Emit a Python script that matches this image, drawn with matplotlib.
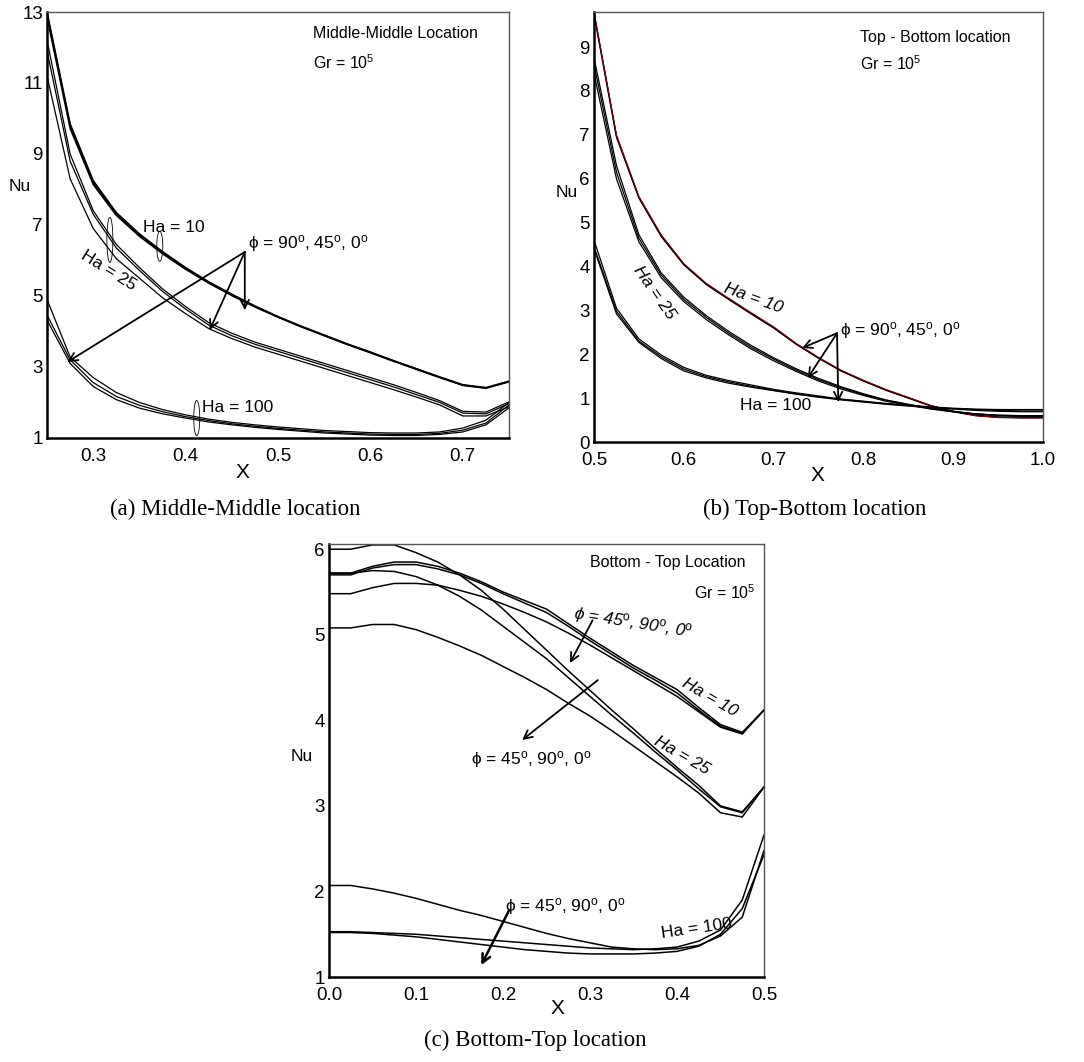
import numpy as np
import matplotlib.pyplot as plt
from matplotlib.patches import Ellipse

plt.rcParams['font.family'] = ['Liberation Sans', 'DejaVu Sans']
plt.rcParams['mathtext.fontset'] = 'custom'
plt.rcParams['mathtext.rm'] = 'Liberation Sans'
plt.rcParams['mathtext.it'] = 'Liberation Sans:italic'

# ---- (a) Middle-Middle location ----
xa = np.arange(0.25, 0.7501, 0.025)
a_ha10 = [[13.0, 9.85, 8.25, 7.35, 6.75, 6.25, 5.8, 5.4, 5.05, 4.72, 4.42, 4.15, 3.9, 3.65, 3.42, 3.18, 2.95, 2.72, 2.5, 2.42, 2.6],
          [12.95, 9.8, 8.2, 7.31, 6.72, 6.22, 5.78, 5.38, 5.03, 4.7, 4.41, 4.14, 3.89, 3.64, 3.41, 3.17, 2.94, 2.71, 2.49, 2.41, 2.59],
          [12.85, 9.72, 8.14, 7.27, 6.68, 6.19, 5.75, 5.36, 5.01, 4.69, 4.4, 4.13, 3.88, 3.63, 3.4, 3.16, 2.93, 2.7, 2.48, 2.4, 2.58]]
a_ha25 = [[12.2, 9.0, 7.4, 6.45, 5.8, 5.2, 4.7, 4.25, 3.95, 3.7, 3.5, 3.3, 3.1, 2.9, 2.7, 2.5, 2.28, 2.05, 1.75, 1.73, 2.02],
          [11.9, 8.8, 7.3, 6.35, 5.72, 5.13, 4.63, 4.18, 3.88, 3.64, 3.44, 3.24, 3.04, 2.84, 2.64, 2.44, 2.22, 2.0, 1.7, 1.68, 1.97],
          [11.2, 8.3, 6.9, 6.05, 5.5, 4.95, 4.5, 4.08, 3.8, 3.56, 3.36, 3.16, 2.96, 2.76, 2.56, 2.36, 2.15, 1.93, 1.62, 1.62, 1.88]]
a_ha100 = [[4.9, 3.28, 2.7, 2.28, 2.0, 1.8, 1.65, 1.53, 1.44, 1.37, 1.31, 1.26, 1.21, 1.18, 1.15, 1.14, 1.14, 1.17, 1.28, 1.5, 2.0],
           [4.46, 3.2, 2.56, 2.17, 1.92, 1.74, 1.6, 1.49, 1.4, 1.33, 1.27, 1.22, 1.17, 1.14, 1.11, 1.1, 1.1, 1.13, 1.22, 1.42, 1.93],
           [4.32, 3.1, 2.45, 2.08, 1.84, 1.68, 1.56, 1.45, 1.37, 1.3, 1.24, 1.19, 1.14, 1.11, 1.08, 1.07, 1.07, 1.1, 1.17, 1.37, 1.85]]

# ---- (b) Top-Bottom location ----
xb = np.arange(0.5, 1.0001, 0.025)
b_ha10 = [[9.8, 7.0, 5.6, 4.72, 4.07, 3.62, 3.28, 2.95, 2.63, 2.25, 1.93, 1.64, 1.41, 1.2, 1.02, 0.83, 0.7, 0.6, 0.56, 0.55, 0.55],
          [9.78, 6.98, 5.58, 4.7, 4.05, 3.6, 3.26, 2.93, 2.61, 2.24, 1.92, 1.63, 1.4, 1.19, 1.01, 0.83, 0.7, 0.61, 0.57, 0.56, 0.56],
          [9.75, 6.95, 5.56, 4.68, 4.04, 3.59, 3.25, 2.92, 2.6, 2.23, 1.91, 1.62, 1.39, 1.18, 1.0, 0.82, 0.69, 0.6, 0.56, 0.55, 0.55]]
b_ha25 = [[8.75, 6.3, 4.72, 3.85, 3.3, 2.88, 2.52, 2.2, 1.92, 1.67, 1.45, 1.26, 1.1, 0.96, 0.86, 0.77, 0.7, 0.64, 0.6, 0.58, 0.58],
          [8.6, 6.15, 4.64, 3.8, 3.25, 2.84, 2.48, 2.16, 1.89, 1.64, 1.42, 1.24, 1.08, 0.95, 0.85, 0.76, 0.69, 0.64, 0.61, 0.6, 0.6],
          [8.4, 6.0, 4.56, 3.74, 3.2, 2.79, 2.44, 2.12, 1.85, 1.61, 1.39, 1.21, 1.06, 0.93, 0.84, 0.75, 0.69, 0.64, 0.61, 0.6, 0.6]]
b_ha100 = [[4.6, 3.05, 2.35, 1.98, 1.7, 1.52, 1.4, 1.3, 1.2, 1.12, 1.05, 0.98, 0.93, 0.88, 0.84, 0.8, 0.77, 0.75, 0.74, 0.74, 0.74],
           [4.45, 2.98, 2.3, 1.94, 1.66, 1.49, 1.37, 1.27, 1.18, 1.1, 1.03, 0.97, 0.92, 0.87, 0.83, 0.79, 0.76, 0.74, 0.72, 0.71, 0.71],
           [4.4, 2.92, 2.27, 1.9, 1.62, 1.46, 1.34, 1.25, 1.17, 1.09, 1.02, 0.96, 0.91, 0.86, 0.82, 0.78, 0.75, 0.72, 0.7, 0.69, 0.69]]

# ---- (c) Bottom-Top location ----
xc = np.arange(0.0, 0.5001, 0.025)
c_ha10 = [[5.72, 5.72, 5.8, 5.85, 5.85, 5.8, 5.72, 5.62, 5.5, 5.4, 5.3, 5.13, 4.96, 4.8, 4.64, 4.5, 4.36, 4.15, 3.95, 3.86, 4.12],
          [5.7, 5.7, 5.78, 5.82, 5.82, 5.77, 5.7, 5.6, 5.48, 5.37, 5.26, 5.1, 4.93, 4.77, 4.61, 4.47, 4.32, 4.12, 3.93, 3.85, 4.12],
          [5.48, 5.48, 5.55, 5.6, 5.6, 5.58, 5.52, 5.45, 5.36, 5.26, 5.15, 5.02, 4.88, 4.73, 4.58, 4.43, 4.28, 4.1, 3.92, 3.84, 4.12]]
c_ha25 = [[6.0, 6.0, 6.05, 6.05, 5.96, 5.85, 5.7, 5.52, 5.3, 5.06, 4.82, 4.58, 4.35, 4.12, 3.9, 3.67, 3.45, 3.24, 3.0, 2.93, 3.22],
          [5.72, 5.72, 5.75, 5.74, 5.68, 5.58, 5.45, 5.29, 5.1, 4.91, 4.72, 4.5, 4.28, 4.06, 3.85, 3.63, 3.42, 3.2, 2.99, 2.92, 3.22],
          [5.08, 5.08, 5.12, 5.12, 5.06, 4.97, 4.87, 4.76, 4.63, 4.5, 4.36, 4.2, 4.05, 3.88, 3.7, 3.52, 3.34, 3.15, 2.92, 2.87, 3.22]]
c_ha100 = [[2.07, 2.07, 2.03, 1.98, 1.92, 1.85, 1.78, 1.72, 1.65, 1.58, 1.51, 1.45, 1.4, 1.35, 1.33, 1.32, 1.33, 1.37, 1.48, 1.7, 2.48],
           [1.53, 1.53, 1.52, 1.51, 1.5, 1.48, 1.46, 1.44, 1.42, 1.4, 1.38, 1.36, 1.34, 1.33, 1.32, 1.33, 1.35, 1.42, 1.55, 1.9, 2.66],
           [1.52, 1.52, 1.51, 1.49, 1.47, 1.44, 1.41, 1.38, 1.35, 1.32, 1.3, 1.28, 1.27, 1.27, 1.27, 1.28, 1.3, 1.36, 1.5, 1.8, 2.43]]

PHI = r'ϕ = 90$^{\rm o}$, 45$^{\rm o}$, 0$^{\rm o}$'
PHI2 = r'ϕ = 45$^{\rm o}$, 90$^{\rm o}$, 0$^{\rm o}$'
GR = r'Gr = 10$^{5}$'

fig = plt.figure(figsize=(10.84, 10.62), dpi=100)


def style_axes(ax, xlim, ylim, xticks, yticks, xfmt):
    ax.set_xlim(*xlim)
    ax.set_ylim(*ylim)
    ax.set_xticks(xticks)
    ax.set_xticklabels([xfmt % t for t in xticks])
    ax.set_yticks(yticks)
    ax.tick_params(length=0, labelsize=13.5, pad=3)
    ax.tick_params(axis='x', pad=7)
    for s in ['left', 'bottom']:
        ax.spines[s].set_linewidth(1.8)
        ax.spines[s].set_color('black')
    for s in ['top', 'right']:
        ax.spines[s].set_linewidth(1.0)
        ax.spines[s].set_color('#555555')


def arrow(ax, tail, head, lw=1.3):
    ax.annotate('', xy=head, xytext=tail,
                arrowprops=dict(arrowstyle='->,head_length=0.6,head_width=0.3', color='black', lw=lw,
                                shrinkA=0, shrinkB=0))


# (a)
ax = fig.add_axes([0.0434, 0.5876, 0.4262, 0.4011])
for ys in a_ha10:
    ax.plot(xa, ys, color='black', lw=1.1)
for ys in a_ha25 + a_ha100:
    ax.plot(xa, ys, color='black', lw=0.9)
style_axes(ax, (0.25, 0.75), (1, 13), [0.3, 0.4, 0.5, 0.6, 0.7], [1, 3, 5, 7, 9, 11, 13], '%.1f')
ax.text(0.538, 12.4, 'Middle-Middle Location', fontsize=11.5, va='center')
ax.text(0.538, 11.56, GR, fontsize=11.5, va='center')
ax.text(0.354, 6.92, 'Ha = 10', fontsize=12.5, va='center')
ax.text(0.316, 5.73, 'Ha = 25', fontsize=12.5, va='center', ha='center', rotation=-32)
ax.text(0.418, 1.85, 'Ha = 100', fontsize=12.5, va='center')
ax.text(0.467, 6.49, PHI, fontsize=12.5, va='center')
for e in [(0.372, 6.4, 0.0065, 0.85), (0.318, 6.58, 0.0065, 1.27), (0.412, 1.56, 0.0065, 0.99)]:
    ax.add_patch(Ellipse((e[0], e[1]), e[2], e[3], fill=False, lw=0.6, color='black'))
for head in [(0.464, 4.6), (0.426, 4.04), (0.272, 3.14)]:
    arrow(ax, (0.464, 6.24), head)
ax.text(-0.058, 0.59, 'Nu', transform=ax.transAxes, fontsize=12.5, ha='center', va='center')
ax.text(0.424, -0.08, 'X', transform=ax.transAxes, fontsize=15, ha='center', va='center')

# (b)
ax = fig.add_axes([0.548, 0.5838, 0.4142, 0.4049])
ax.plot(xb, b_ha10[1], color='black', lw=1.0)
ax.plot(xb, b_ha10[2], color='black', lw=1.0)
ax.plot(xb, b_ha10[0], color='#a00000', lw=0.6)
for ys in b_ha25 + b_ha100:
    ax.plot(xb, ys, color='black', lw=0.9)
style_axes(ax, (0.5, 1.0), (0, 9.8), [0.5, 0.6, 0.7, 0.8, 0.9, 1.0], list(range(10)), '%.1f')
ax.text(0.796, 9.22, 'Top - Bottom location', fontsize=11.5, va='center')
ax.text(0.796, 8.63, GR, fontsize=11.5, va='center')
ax.text(0.567, 3.4, 'Ha = 25', fontsize=12.5, va='center', ha='center', rotation=-55, style='italic')
ax.text(0.677, 3.28, 'Ha = 10', fontsize=12.5, va='center', ha='center', rotation=-20, style='italic')
ax.text(0.663, 0.84, 'Ha = 100', fontsize=12.5, va='center')
ax.text(0.774, 2.55, PHI, fontsize=12.5, va='center')
for head in [(0.7316, 2.14), (0.738, 1.46), (0.772, 0.91)]:
    arrow(ax, (0.7706, 2.48), head)
ax.text(-0.06, 0.58, 'Nu', transform=ax.transAxes, fontsize=12.5, ha='center', va='center')
ax.text(0.497, -0.078, 'X', transform=ax.transAxes, fontsize=15, ha='center', va='center')

# (c)
ax = fig.add_axes([0.3035, 0.08, 0.4013, 0.4077])
for ys in c_ha10 + c_ha25 + c_ha100:
    ax.plot(xc, ys, color='black', lw=1.1)
style_axes(ax, (0.0, 0.5), (1, 6.06), [0.0, 0.1, 0.2, 0.3, 0.4, 0.5], [1, 2, 3, 4, 5, 6], '%.1f')
ax.text(0.3, 5.84, 'Bottom - Top Location', fontsize=11.5, va='center')
ax.text(0.42, 5.49, GR, fontsize=11.5, va='center')
ax.text(0.349, 5.14, PHI2, fontsize=12.5, va='center', ha='center', rotation=-9, style='italic')
ax.text(0.232, 3.54, PHI2, fontsize=12.5, va='center', ha='center')
ax.text(0.271, 1.82, PHI2, fontsize=12.5, va='center', ha='center')
ax.text(0.438, 4.27, 'Ha = 10', fontsize=12.5, va='center', ha='center', rotation=-30, style='italic')
ax.text(0.406, 3.59, 'Ha = 25', fontsize=12.5, va='center', ha='center', rotation=-30, style='italic')
ax.text(0.423, 1.57, 'Ha = 100', fontsize=12.5, va='center', ha='center', rotation=8)
arrow(ax, (0.303, 5.17), (0.277, 4.67))
arrow(ax, (0.309, 4.47), (0.222, 3.77))
arrow(ax, (0.207, 1.78), (0.175, 1.14), lw=1.8)
ax.text(-0.062, 0.51, 'Nu', transform=ax.transAxes, fontsize=12.5, ha='center', va='center')
ax.text(0.526, -0.072, 'X', transform=ax.transAxes, fontsize=15, ha='center', va='center')

cap = dict(fontsize=16.5, family='Liberation Serif', ha='center', va='center')
fig.text(235 / 1084, 1 - 509 / 1062, '(a) Middle-Middle location', **cap)
fig.text(815 / 1084, 1 - 509 / 1062, '(b) Top-Bottom location', **cap)
fig.text(535 / 1084, 1 - 1040 / 1062, '(c) Bottom-Top location', **cap)

fig.savefig('out.png', dpi=100)
